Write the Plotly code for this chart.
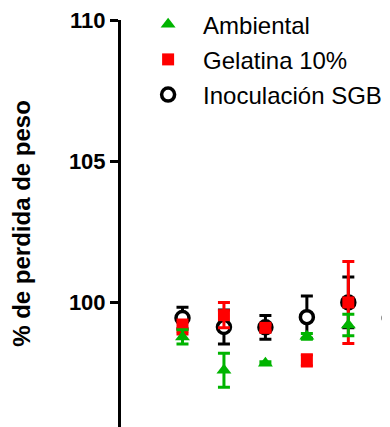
import plotly.graph_objects as go

x_pos = [1, 2, 3, 4, 5, 6]
series_names = ["Ambiental", "Gelatina 10%", "Inoculación SGB"]

amb_mean = [98.78, 97.6, 97.85, 98.8, 99.2, 100.0]
amb_err = [0.25, 0.6, 0.05, 0.1, 0.38, 0.2]

gel_mean = [99.13, 99.55, 99.1, 97.95, 100.0, 101.08]
gel_err = [0.25, 0.45, 0.1, 0.2, 1.45, 0.95]

ino_mean = [99.45, 99.13, 99.12, 99.48, 100.0, 99.45]
ino_err = [0.38, 0.6, 0.42, 0.75, 0.9, 0.78]

y_ticks = [100, 105, 110]

FONT = "Liberation Sans, Arial, sans-serif"

fig = go.Figure()

fig.add_trace(go.Scatter(
    x=x_pos, y=ino_mean, mode="markers", name=series_names[2], legendrank=3,
    legendgroup="c", cliponaxis=False,
    marker=dict(symbol="circle", size=13, color="white", line=dict(color="black", width=3.5)),
    error_y=dict(type="data", array=ino_err, color="black", thickness=3, width=6),
))
fig.add_trace(go.Scatter(
    x=x_pos, y=gel_mean, mode="markers", name=series_names[1], legendrank=2,
    legendgroup="b", cliponaxis=False,
    marker=dict(symbol="square", size=12, color="#ff0000", line=dict(width=0)),
    error_y=dict(type="data", array=gel_err, color="#ff0000", thickness=3, width=6),
))
fig.add_trace(go.Scatter(
    x=x_pos, y=amb_mean, mode="markers", name=series_names[0], legendrank=1,
    legendgroup="a", cliponaxis=False,
    marker=dict(symbol="triangle-up", size=13, color="#00b400", line=dict(width=0)),
    error_y=dict(type="data", array=amb_err, color="#00b400", thickness=3, width=6),
))

fig.update_layout(
    width=382, height=419,
    margin=dict(l=113, r=0, t=12, b=0, autoexpand=False),
    paper_bgcolor="white", plot_bgcolor="white",
    font=dict(family=FONT, color="black"),
    legend=dict(
        x=0.045, y=1.044, xanchor="left", yanchor="top",
        font=dict(size=24, family=FONT, color="black"),
        bgcolor="rgba(0,0,0,0)", tracegroupgap=1, traceorder="grouped",
        itemwidth=60,
    ),
    showlegend=True,
)
fig.update_xaxes(
    range=[-0.483, 6.005], showline=False, showticklabels=False, ticks="",
    showgrid=False, zeroline=False,
)
fig.update_yaxes(
    range=[95.59, 110], tickvals=y_ticks, ticktext=[str(v) for v in y_ticks],
    showline=True, linecolor="black", linewidth=3,
    ticks="outside", ticklen=8, tickwidth=3, tickcolor="black",
    tickfont=dict(size=22, family=FONT, weight="bold", color="black"),
    ticklabeloverflow="allow",
    showgrid=False, zeroline=False, automargin=False,
    title=dict(text="% de perdida de peso", font=dict(size=24, family=FONT, weight="bold", color="black"), standoff=33),
)

fig.write_html("out.html")
